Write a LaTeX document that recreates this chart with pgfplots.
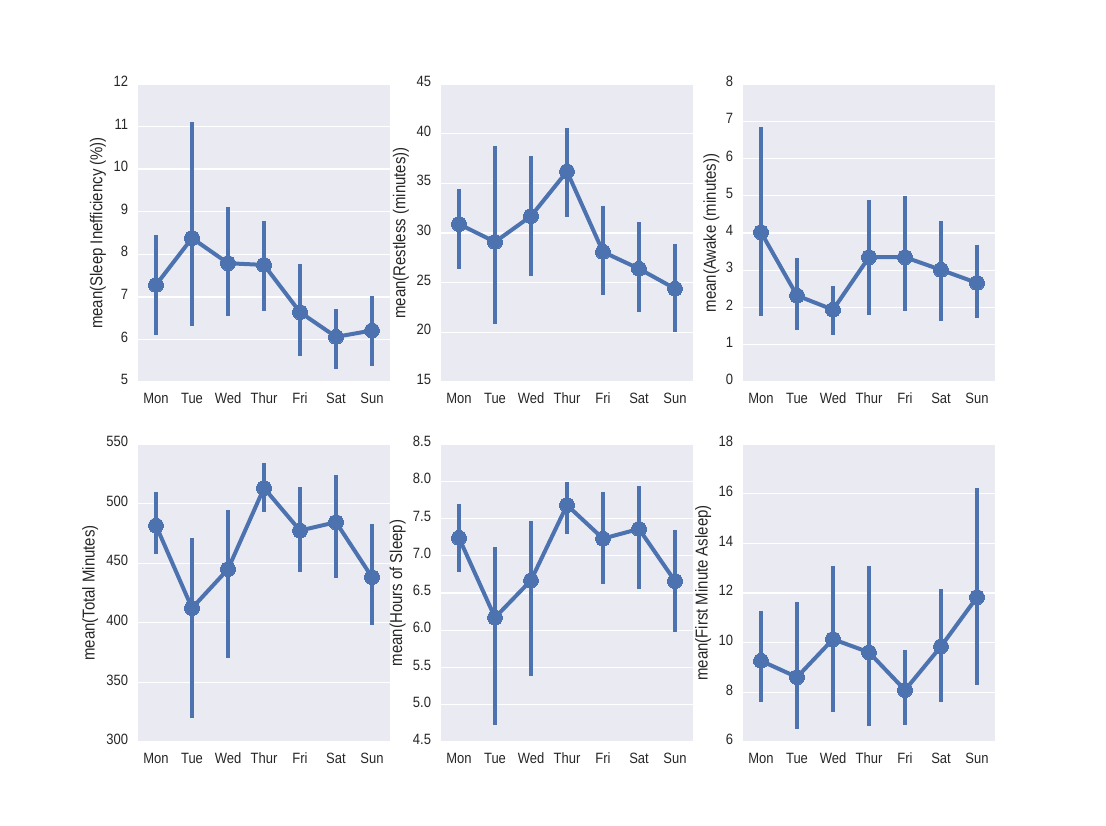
\documentclass[border=0pt]{standalone}
\usepackage{pgfplots}
\usepackage{pgfplotstable}
\pgfplotsset{compat=1.18}
\usepackage{fontspec}
\setmainfont{Liberation Sans}[FakeStretch=0.87]

\definecolor{sbblue}{HTML}{4C72B0}
\definecolor{sbbg}{HTML}{EAEAF2}
\definecolor{sbtext}{HTML}{262626}

% columns: day index, mean, lower CI, upper CI
\pgfplotstableread{
x m lo hi
0 7.28 6.11 8.46
1 8.38 6.31 11.10
2 7.79 6.56 9.10
3 7.75 6.66 8.79
4 6.64 5.60 7.78
5 6.06 5.31 6.72
6 6.21 5.37 7.03
}\tabIneff
\pgfplotstableread{
x m lo hi
0 30.9 26.4 34.4
1 29.1 20.8 38.8
2 31.7 25.7 37.8
3 36.2 31.6 40.6
4 28.1 23.8 32.7
5 26.4 22.0 31.1
6 24.4 20.0 28.9
}\tabRestless
\pgfplotstableread{
x m lo hi
0 4.02 1.76 6.84
1 2.32 1.40 3.33
2 1.94 1.25 2.58
3 3.35 1.81 4.89
4 3.35 1.90 4.98
5 3.01 1.63 4.33
6 2.66 1.72 3.69
}\tabAwake
\pgfplotstableread{
x m lo hi
0 481.6 457.5 510.1
1 412.3 319.8 471.2
2 445.0 370.1 494.7
3 513.1 493.0 534.4
4 477.4 442.7 514.0
5 484.4 437.7 524.3
6 438.3 398.3 483.0
}\tabTotal
\pgfplotstableread{
x m lo hi
0 7.24 6.78 7.70
1 6.17 4.73 7.12
2 6.67 5.39 7.47
3 7.68 7.29 7.99
4 7.23 6.62 7.86
5 7.36 6.56 7.94
6 6.66 5.98 7.35
}\tabHours
\pgfplotstableread{
x m lo hi
0 9.27 7.61 11.28
1 8.61 6.54 11.64
2 10.14 7.21 13.09
3 9.61 6.63 13.07
4 8.09 6.70 9.71
5 9.85 7.61 12.17
6 11.83 8.31 16.24
}\tabFirst

\pgfplotsset{
  sbpanel/.style={
    scale only axis, width=189pt, height=223.5pt, anchor=south west,
    axis background/.style={fill=sbbg},
    axis line style={draw=none},
    major tick length=0pt,
    ymajorgrids, grid style={white, line width=1pt},
    xmin=-0.5, xmax=6.5,
    xtick={0,...,6}, xticklabels={Mon,Tue,Wed,Thur,Fri,Sat,Sun},
    tick label style={font=\fontsize{11.2}{13}\selectfont, text=sbtext, inner sep=0pt},
    xticklabel style={anchor=base, yshift=-16pt},
    yticklabel style={anchor=base east, xshift=-7.3pt, yshift=-2pt},
    label style={font=\fontsize{12.9}{15}\selectfont, text=sbtext},
    /pgf/number format/assume math mode=true,
    ylabel style={at={(axis description cs:#1,0.5)}, anchor=center},
  },
  sbpoints/.style={
    sbblue, line width=3pt, line join=round,
    mark=*, mark size=5.6pt,
    mark options={solid, fill=sbblue, draw=sbblue, line width=0pt},
    error bars/.cd, y dir=both, y explicit, error mark=none,
    error bar style={line width=3pt, sbblue},
  },
}
\newcommand{\pointseries}[1]{%
  \addplot[sbpoints] table[x=x, y=m,
    y error plus expr=\thisrow{hi}-\thisrow{m},
    y error minus expr=\thisrow{m}-\thisrow{lo}] {#1};}

\begin{document}
\begin{tikzpicture}
\path[use as bounding box] (0,0) rectangle (829.5pt,618.75pt);

\begin{axis}[sbpanel=-0.159, at={(103.5pt,332.25pt)},
  ymin=5, ymax=12, ytick={5,...,12},
  ylabel={mean(Sleep Inefficiency (\%))}]
\pointseries{\tabIneff}
\end{axis}

\begin{axis}[sbpanel=-0.159, at={(330.75pt,332.25pt)},
  ymin=15, ymax=45, ytick={15,20,...,45},
  ylabel={mean(Restless (minutes))}]
\pointseries{\tabRestless}
\end{axis}

\begin{axis}[sbpanel=-0.125, at={(557.25pt,332.25pt)},
  ymin=0, ymax=8, ytick={0,...,8},
  ylabel={mean(Awake (minutes))}]
\pointseries{\tabAwake}
\end{axis}

\begin{axis}[sbpanel=-0.19, at={(103.5pt,62.25pt)},
  ymin=300, ymax=550, ytick={300,350,...,550},
  ylabel={mean(Total Minutes)}]
\pointseries{\tabTotal}
\end{axis}

\begin{axis}[sbpanel=-0.172, at={(330.75pt,62.25pt)},
  ymin=4.5, ymax=8.5, ytick={4.5,5.0,...,8.5},
  yticklabel style={/pgf/number format/.cd, fixed, fixed zerofill, precision=1},
  ylabel={mean(Hours of Sleep)}]
\pointseries{\tabHours}
\end{axis}

\begin{axis}[sbpanel=-0.158, at={(557.25pt,62.25pt)},
  ymin=6, ymax=18, ytick={6,8,...,18},
  ylabel={mean(First Minute Asleep)}]
\pointseries{\tabFirst}
\end{axis}
\end{tikzpicture}
\end{document}
